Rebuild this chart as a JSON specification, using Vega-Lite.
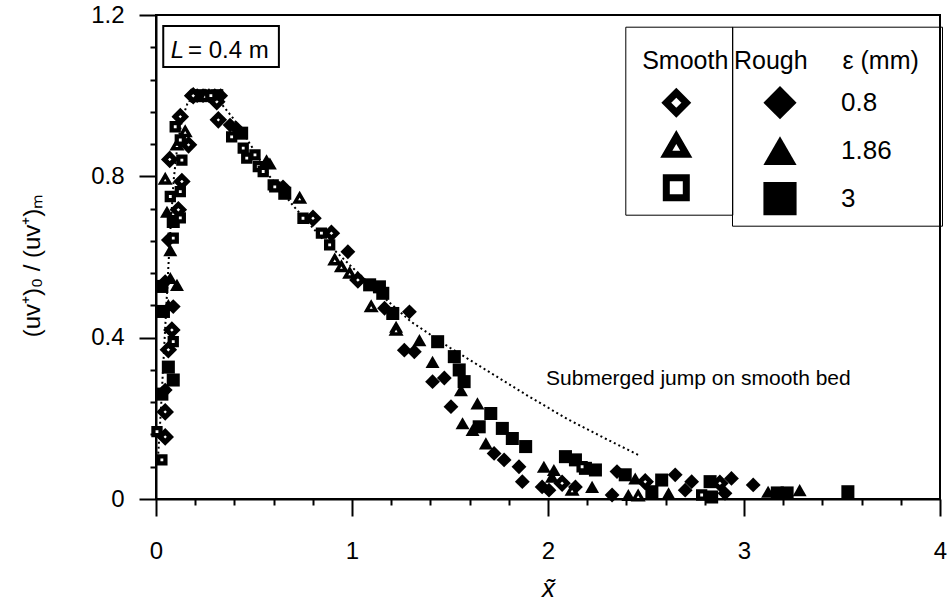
{
  "$schema": "https://vega.github.io/schema/vega-lite/v6.json",
  "width": 784,
  "height": 484,
  "autosize": {"type": "none"},
  "padding": {"left": 156, "top": 15, "right": 7, "bottom": 104},
  "background": "white",
  "config": {
    "font": "Liberation Sans",
    "view": {"stroke": "black", "strokeWidth": 2},
    "axis": {"grid": false, "domainColor": "black", "domainWidth": 2, "tickColor": "black", "tickWidth": 2, "labelColor": "black", "labelFont": "Liberation Sans", "labelFontSize": 24, "titleFont": "Liberation Sans", "titleColor": "black", "titleFontWeight": "normal", "labelFlush": false, "labelOverlap": false}
  },
  "datasets": {
    "curve": [
      {"x": 0.01, "y": 0.1}, {"x": 0.025, "y": 0.22}, {"x": 0.04, "y": 0.36}, {"x": 0.055, "y": 0.5},
      {"x": 0.07, "y": 0.64}, {"x": 0.09, "y": 0.79}, {"x": 0.11, "y": 0.88}, {"x": 0.135, "y": 0.945},
      {"x": 0.16, "y": 0.98}, {"x": 0.2, "y": 1.0}, {"x": 0.3, "y": 1.0}, {"x": 0.4, "y": 0.94},
      {"x": 0.5, "y": 0.865}, {"x": 0.58, "y": 0.8}, {"x": 0.7, "y": 0.727}, {"x": 0.85, "y": 0.645},
      {"x": 1.0, "y": 0.575}, {"x": 1.15, "y": 0.505}, {"x": 1.3, "y": 0.44}, {"x": 1.5, "y": 0.375},
      {"x": 1.7, "y": 0.315}, {"x": 1.9, "y": 0.255}, {"x": 2.1, "y": 0.198}, {"x": 2.3, "y": 0.148},
      {"x": 2.47, "y": 0.107}
    ],
    "points": [
      {"x": 0.047, "y": 0.154, "bed": "Smooth", "eps": "0.8"},
      {"x": 0.047, "y": 0.216, "bed": "Smooth", "eps": "0.8"},
      {"x": 0.063, "y": 0.37, "bed": "Smooth", "eps": "0.8"},
      {"x": 0.081, "y": 0.419, "bed": "Smooth", "eps": "0.8"},
      {"x": 0.132, "y": 0.787, "bed": "Smooth", "eps": "0.8"},
      {"x": 0.07, "y": 0.842, "bed": "Smooth", "eps": "0.8"},
      {"x": 0.114, "y": 0.717, "bed": "Smooth", "eps": "0.8"},
      {"x": 0.124, "y": 0.948, "bed": "Smooth", "eps": "0.8"},
      {"x": 0.166, "y": 0.878, "bed": "Smooth", "eps": "0.8"},
      {"x": 0.19, "y": 1.0, "bed": "Smooth", "eps": "0.8"},
      {"x": 0.31, "y": 0.985, "bed": "Smooth", "eps": "0.8"},
      {"x": 0.318, "y": 0.94, "bed": "Smooth", "eps": "0.8"},
      {"x": 0.801, "y": 0.696, "bed": "Smooth", "eps": "0.8"},
      {"x": 0.895, "y": 0.659, "bed": "Smooth", "eps": "0.8"},
      {"x": 1.03, "y": 0.543, "bed": "Smooth", "eps": "0.8"},
      {"x": 2.072, "y": 0.039, "bed": "Smooth", "eps": "0.8"},
      {"x": 2.496, "y": 0.043, "bed": "Smooth", "eps": "0.8"},
      {"x": 2.877, "y": 0.039, "bed": "Smooth", "eps": "0.8"},
      {"x": 0.047, "y": 0.793, "bed": "Smooth", "eps": "1.86"},
      {"x": 0.107, "y": 0.878, "bed": "Smooth", "eps": "1.86"},
      {"x": 0.149, "y": 0.911, "bed": "Smooth", "eps": "1.86"},
      {"x": 0.25, "y": 1.0, "bed": "Smooth", "eps": "1.86"},
      {"x": 0.733, "y": 0.746, "bed": "Smooth", "eps": "1.86"},
      {"x": 0.912, "y": 0.593, "bed": "Smooth", "eps": "1.86"},
      {"x": 0.946, "y": 0.576, "bed": "Smooth", "eps": "1.86"},
      {"x": 0.988, "y": 0.56, "bed": "Smooth", "eps": "1.86"},
      {"x": 1.098, "y": 0.477, "bed": "Smooth", "eps": "1.86"},
      {"x": 1.225, "y": 0.419, "bed": "Smooth", "eps": "1.86"},
      {"x": 2.123, "y": 0.022, "bed": "Smooth", "eps": "1.86"},
      {"x": 2.46, "y": 0.008, "bed": "Smooth", "eps": "1.86"},
      {"x": 0.03, "y": 0.097, "bed": "Smooth", "eps": "3"},
      {"x": 0.005, "y": 0.167, "bed": "Smooth", "eps": "3"},
      {"x": 0.088, "y": 0.39, "bed": "Smooth", "eps": "3"},
      {"x": 0.088, "y": 0.647, "bed": "Smooth", "eps": "3"},
      {"x": 0.124, "y": 0.697, "bed": "Smooth", "eps": "3"},
      {"x": 0.073, "y": 0.75, "bed": "Smooth", "eps": "3"},
      {"x": 0.124, "y": 0.762, "bed": "Smooth", "eps": "3"},
      {"x": 0.132, "y": 0.84, "bed": "Smooth", "eps": "3"},
      {"x": 0.124, "y": 0.89, "bed": "Smooth", "eps": "3"},
      {"x": 0.098, "y": 0.923, "bed": "Smooth", "eps": "3"},
      {"x": 0.28, "y": 1.0, "bed": "Smooth", "eps": "3"},
      {"x": 0.386, "y": 0.898, "bed": "Smooth", "eps": "3"},
      {"x": 0.445, "y": 0.87, "bed": "Smooth", "eps": "3"},
      {"x": 0.463, "y": 0.845, "bed": "Smooth", "eps": "3"},
      {"x": 0.505, "y": 0.853, "bed": "Smooth", "eps": "3"},
      {"x": 0.522, "y": 0.824, "bed": "Smooth", "eps": "3"},
      {"x": 0.547, "y": 0.812, "bed": "Smooth", "eps": "3"},
      {"x": 0.598, "y": 0.779, "bed": "Smooth", "eps": "3"},
      {"x": 0.606, "y": 0.774, "bed": "Smooth", "eps": "3"},
      {"x": 0.75, "y": 0.696, "bed": "Smooth", "eps": "3"},
      {"x": 0.844, "y": 0.659, "bed": "Smooth", "eps": "3"},
      {"x": 0.886, "y": 0.63, "bed": "Smooth", "eps": "3"},
      {"x": 2.174, "y": 0.08, "bed": "Smooth", "eps": "3"},
      {"x": 2.784, "y": 0.01, "bed": "Smooth", "eps": "3"},
      {"x": 0.047, "y": 0.27, "bed": "Rough", "eps": "0.8"},
      {"x": 0.088, "y": 0.477, "bed": "Rough", "eps": "0.8"},
      {"x": 0.047, "y": 0.539, "bed": "Rough", "eps": "0.8"},
      {"x": 0.063, "y": 0.642, "bed": "Rough", "eps": "0.8"},
      {"x": 0.18, "y": 1.0, "bed": "Rough", "eps": "0.8"},
      {"x": 0.21, "y": 1.0, "bed": "Rough", "eps": "0.8"},
      {"x": 0.24, "y": 1.0, "bed": "Rough", "eps": "0.8"},
      {"x": 0.27, "y": 1.0, "bed": "Rough", "eps": "0.8"},
      {"x": 0.3, "y": 1.0, "bed": "Rough", "eps": "0.8"},
      {"x": 0.33, "y": 1.0, "bed": "Rough", "eps": "0.8"},
      {"x": 0.378, "y": 0.927, "bed": "Rough", "eps": "0.8"},
      {"x": 0.411, "y": 0.919, "bed": "Rough", "eps": "0.8"},
      {"x": 0.648, "y": 0.774, "bed": "Rough", "eps": "0.8"},
      {"x": 0.979, "y": 0.613, "bed": "Rough", "eps": "0.8"},
      {"x": 1.166, "y": 0.473, "bed": "Rough", "eps": "0.8"},
      {"x": 1.293, "y": 0.464, "bed": "Rough", "eps": "0.8"},
      {"x": 1.267, "y": 0.369, "bed": "Rough", "eps": "0.8"},
      {"x": 1.318, "y": 0.365, "bed": "Rough", "eps": "0.8"},
      {"x": 1.411, "y": 0.291, "bed": "Rough", "eps": "0.8"},
      {"x": 1.471, "y": 0.3, "bed": "Rough", "eps": "0.8"},
      {"x": 1.505, "y": 0.229, "bed": "Rough", "eps": "0.8"},
      {"x": 1.725, "y": 0.113, "bed": "Rough", "eps": "0.8"},
      {"x": 1.776, "y": 0.097, "bed": "Rough", "eps": "0.8"},
      {"x": 1.852, "y": 0.08, "bed": "Rough", "eps": "0.8"},
      {"x": 1.869, "y": 0.043, "bed": "Rough", "eps": "0.8"},
      {"x": 1.97, "y": 0.03, "bed": "Rough", "eps": "0.8"},
      {"x": 2.005, "y": 0.022, "bed": "Rough", "eps": "0.8"},
      {"x": 2.14, "y": 0.03, "bed": "Rough", "eps": "0.8"},
      {"x": 2.327, "y": 0.01, "bed": "Rough", "eps": "0.8"},
      {"x": 2.352, "y": 0.068, "bed": "Rough", "eps": "0.8"},
      {"x": 2.649, "y": 0.06, "bed": "Rough", "eps": "0.8"},
      {"x": 2.7, "y": 0.022, "bed": "Rough", "eps": "0.8"},
      {"x": 2.733, "y": 0.043, "bed": "Rough", "eps": "0.8"},
      {"x": 2.903, "y": 0.014, "bed": "Rough", "eps": "0.8"},
      {"x": 2.936, "y": 0.051, "bed": "Rough", "eps": "0.8"},
      {"x": 3.047, "y": 0.035, "bed": "Rough", "eps": "0.8"},
      {"x": 0.056, "y": 0.712, "bed": "Rough", "eps": "1.86"},
      {"x": 0.073, "y": 0.617, "bed": "Rough", "eps": "1.86"},
      {"x": 0.073, "y": 0.548, "bed": "Rough", "eps": "1.86"},
      {"x": 0.107, "y": 0.531, "bed": "Rough", "eps": "1.86"},
      {"x": 0.063, "y": 0.481, "bed": "Rough", "eps": "1.86"},
      {"x": 0.2, "y": 1.0, "bed": "Rough", "eps": "1.86"},
      {"x": 0.29, "y": 1.0, "bed": "Rough", "eps": "1.86"},
      {"x": 0.564, "y": 0.84, "bed": "Rough", "eps": "1.86"},
      {"x": 0.581, "y": 0.832, "bed": "Rough", "eps": "1.86"},
      {"x": 1.225, "y": 0.427, "bed": "Rough", "eps": "1.86"},
      {"x": 1.344, "y": 0.394, "bed": "Rough", "eps": "1.86"},
      {"x": 1.411, "y": 0.34, "bed": "Rough", "eps": "1.86"},
      {"x": 1.556, "y": 0.27, "bed": "Rough", "eps": "1.86"},
      {"x": 1.64, "y": 0.237, "bed": "Rough", "eps": "1.86"},
      {"x": 1.564, "y": 0.188, "bed": "Rough", "eps": "1.86"},
      {"x": 1.615, "y": 0.171, "bed": "Rough", "eps": "1.86"},
      {"x": 1.683, "y": 0.138, "bed": "Rough", "eps": "1.86"},
      {"x": 1.979, "y": 0.08, "bed": "Rough", "eps": "1.86"},
      {"x": 2.02, "y": 0.055, "bed": "Rough", "eps": "1.86"},
      {"x": 2.03, "y": 0.072, "bed": "Rough", "eps": "1.86"},
      {"x": 2.225, "y": 0.03, "bed": "Rough", "eps": "1.86"},
      {"x": 2.41, "y": 0.01, "bed": "Rough", "eps": "1.86"},
      {"x": 2.445, "y": 0.051, "bed": "Rough", "eps": "1.86"},
      {"x": 2.615, "y": 0.014, "bed": "Rough", "eps": "1.86"},
      {"x": 3.123, "y": 0.018, "bed": "Rough", "eps": "1.86"},
      {"x": 3.284, "y": 0.022, "bed": "Rough", "eps": "1.86"},
      {"x": 0.063, "y": 0.327, "bed": "Rough", "eps": "3"},
      {"x": 0.088, "y": 0.295, "bed": "Rough", "eps": "3"},
      {"x": 0.03, "y": 0.26, "bed": "Rough", "eps": "3"},
      {"x": 0.038, "y": 0.465, "bed": "Rough", "eps": "3"},
      {"x": 0.03, "y": 0.527, "bed": "Rough", "eps": "3"},
      {"x": 0.088, "y": 0.688, "bed": "Rough", "eps": "3"},
      {"x": 0.23, "y": 1.0, "bed": "Rough", "eps": "3"},
      {"x": 0.31, "y": 1.0, "bed": "Rough", "eps": "3"},
      {"x": 0.437, "y": 0.907, "bed": "Rough", "eps": "3"},
      {"x": 0.657, "y": 0.758, "bed": "Rough", "eps": "3"},
      {"x": 1.09, "y": 0.531, "bed": "Rough", "eps": "3"},
      {"x": 1.14, "y": 0.526, "bed": "Rough", "eps": "3"},
      {"x": 1.157, "y": 0.51, "bed": "Rough", "eps": "3"},
      {"x": 1.208, "y": 0.46, "bed": "Rough", "eps": "3"},
      {"x": 1.437, "y": 0.39, "bed": "Rough", "eps": "3"},
      {"x": 1.522, "y": 0.353, "bed": "Rough", "eps": "3"},
      {"x": 1.547, "y": 0.32, "bed": "Rough", "eps": "3"},
      {"x": 1.572, "y": 0.291, "bed": "Rough", "eps": "3"},
      {"x": 1.649, "y": 0.179, "bed": "Rough", "eps": "3"},
      {"x": 1.708, "y": 0.212, "bed": "Rough", "eps": "3"},
      {"x": 1.767, "y": 0.175, "bed": "Rough", "eps": "3"},
      {"x": 1.818, "y": 0.15, "bed": "Rough", "eps": "3"},
      {"x": 1.886, "y": 0.13, "bed": "Rough", "eps": "3"},
      {"x": 2.089, "y": 0.105, "bed": "Rough", "eps": "3"},
      {"x": 2.14, "y": 0.097, "bed": "Rough", "eps": "3"},
      {"x": 2.191, "y": 0.076, "bed": "Rough", "eps": "3"},
      {"x": 2.242, "y": 0.072, "bed": "Rough", "eps": "3"},
      {"x": 2.394, "y": 0.06, "bed": "Rough", "eps": "3"},
      {"x": 2.53, "y": 0.018, "bed": "Rough", "eps": "3"},
      {"x": 2.58, "y": 0.047, "bed": "Rough", "eps": "3"},
      {"x": 2.827, "y": 0.043, "bed": "Rough", "eps": "3"},
      {"x": 2.835, "y": 0.005, "bed": "Rough", "eps": "3"},
      {"x": 3.17, "y": 0.015, "bed": "Rough", "eps": "3"},
      {"x": 3.22, "y": 0.015, "bed": "Rough", "eps": "3"},
      {"x": 3.53, "y": 0.018, "bed": "Rough", "eps": "3"}
    ]
  },
  "layer": [
    {
      "data": {"name": "curve"},
      "mark": {"type": "line", "stroke": "black", "strokeWidth": 2, "strokeDash": [2, 3]},
      "encoding": {
        "x": {
          "field": "x", "type": "quantitative",
          "scale": {"domain": [0, 4], "nice": false},
          "axis": {
            "values": [0, 0.2, 0.4, 0.6, 0.8, 1, 1.2, 1.4, 1.6, 1.8, 2, 2.2, 2.4, 2.6, 2.8, 3, 3.2, 3.4, 3.6, 3.8, 4],
            "tickCount": 100,
            "labelExpr": "datum.value % 1 === 0 ? format(datum.value, 'd') : ''",
            "labelOverlap": false,
            "labelFlush": false,
            "tickSize": {"condition": {"test": "datum.value % 1 === 0", "value": 17}, "value": 6},
            "labelPadding": 23,
            "title": "x\u0303",
            "titleFontStyle": "italic",
            "titleFontSize": 26,
            "titleY": 89,
            "titleBaseline": "middle"
          }
        },
        "y": {
          "field": "y", "type": "quantitative",
          "scale": {"domain": [0, 1.2], "nice": false},
          "axis": {
            "values": [0, 0.08, 0.16, 0.24, 0.32, 0.4, 0.48, 0.56, 0.64, 0.72, 0.8, 0.88, 0.96, 1.04, 1.12, 1.2],
            "tickCount": 100,
            "labelExpr": "abs(datum.value / 0.4 - round(datum.value / 0.4)) < 0.001 ? format(datum.value, '.1~f') : ''",
            "labelOverlap": false,
            "labelFlush": false,
            "tickSize": {"condition": {"test": "abs(datum.value / 0.4 - round(datum.value / 0.4)) < 0.001", "value": 17}, "value": 6},
            "labelPadding": 15,
            "title": "(uv\u207a)\u2080 / (uv\u207a)\u2098",
            "titleFontSize": 24,
            "titleX": -124,
            "titleY": 250,
            "titleAngle": -90,
            "titleAlign": "center",
            "titleBaseline": "middle"
          }
        }
      }
    },
    {
      "data": {"values": [{}]},
      "mark": {"type": "rect", "filled": false, "stroke": "black", "strokeWidth": 2},
      "encoding": {
        "x": {"datum": 0.037, "type": "quantitative"},
        "x2": {"datum": 0.627},
        "y": {"datum": 1.173, "type": "quantitative"},
        "y2": {"datum": 1.071}
      }
    },
    {
      "data": {"name": "points"},
      "transform": [{"filter": "datum.bed === 'Rough'"}],
      "mark": {"type": "point", "filled": true, "fill": "black", "strokeWidth": 0, "opacity": 1},
      "encoding": {
        "x": {"field": "x", "type": "quantitative"},
        "y": {"field": "y", "type": "quantitative"},
        "shape": {
          "field": "eps", "type": "nominal",
          "scale": {"domain": ["0.8", "1.86", "3"], "range": ["diamond", "triangle-up", "square"]},
          "legend": {
            "title": "Rough\u00a0\u00a0\u00a0\u00a0\u00a0\u03b5 (mm)\u00a0\u00a0\u00a0\u200b",
            "orient": "none",
            "legendX": 576,
            "legendY": 11.7,
            "padding": 2,
            "strokeColor": "black",
            "cornerRadius": 0,
            "titleFont": "Liberation Sans",
            "titleFontSize": 25,
            "titleFontWeight": "normal",
            "titleColor": "black",
            "titleLimit": 400,
            "titleBaseline": "line-top",
            "titleLineHeight": 66,
            "titlePadding": 30,
            "titleAnchor": "start",
            "labelFont": "Liberation Sans",
            "labelFontSize": 26,
            "labelColor": "black",
            "labelOffset": 42,
            "symbolOffset": 27,
            "symbolSize": 1100,
            "symbolStrokeWidth": 4,
            "symbolFillColor": "black",
            "rowPadding": 0,
            "encode": {
              "legend": {"strokeWidth": {"value": 2}},
              "symbols": {
                "fill": {"value": "black"},
                "strokeWidth": {"value": 0},
                "size": {"value": 960}
              }
            }
          }
        },
        "size": {
          "field": "eps", "type": "ordinal",
          "scale": {"domain": ["3", "1.86", "0.8"], "range": [170, 220, 320]},
          "legend": null
        }
      }
    },
    {
      "data": {"name": "points"},
      "transform": [{"filter": "datum.bed === 'Smooth'"}],
      "mark": {"type": "point", "filled": false, "fill": "white", "stroke": "black", "opacity": 1},
      "encoding": {
        "x": {"field": "x", "type": "quantitative"},
        "y": {"field": "y", "type": "quantitative"},
        "shape": {
          "field": "eps", "type": "nominal",
          "scale": {"domain": ["0.8", "1.86", "3"], "range": ["diamond", "triangle-up", "square"]},
          "legend": {
            "title": "\u200b\u00a0\u00a0Smooth",
            "orient": "none",
            "legendX": 469.3,
            "legendY": 11.7,
            "padding": 3,
            "strokeColor": "black",
            "cornerRadius": 0,
            "titleFont": "Liberation Sans",
            "titleFontSize": 25,
            "titleFontWeight": "normal",
            "titleColor": "black",
            "titleLimit": 400,
            "titleBaseline": "line-top",
            "titleLineHeight": 64,
            "titlePadding": 29,
            "titleAnchor": "start",
            "labelExpr": "''",
            "labelFontSize": 38,
            "labelOffset": 0,
            "symbolOffset": 29,
            "symbolSize": 400,
            "symbolStrokeWidth": 7,
            "rowPadding": -10.5,
            "encode": {
              "legend": {"strokeWidth": {"value": 2}},
              "symbols": {
                "fill": {"value": "white"},
                "stroke": {"value": "black"},
                "strokeWidth": {"condition": [{"test": "datum.value === '1.86'", "value": 5}, {"test": "datum.value === '3'", "value": 8}], "value": 7},
                "size": {"condition": [{"test": "datum.value === '1.86'", "value": 360}, {"test": "datum.value === '3'", "value": 420}], "value": 380}
              }
            }
          }
        },
        "size": {
          "field": "eps", "type": "ordinal",
          "scale": {"domain": ["3", "1.86", "0.8"], "range": [50, 110, 110]},
          "legend": null
        },
        "strokeWidth": {
          "field": "eps", "type": "ordinal",
          "scale": {"domain": ["1.86", "3", "0.8"], "range": [3.5, 5, 5]},
          "legend": null
        }
      }
    },
    {
      "data": {"values": [{}]},
      "mark": {"type": "text", "text": "Submerged jump on smooth bed", "font": "Liberation Sans", "fontSize": 21, "align": "left", "baseline": "middle", "color": "black"},
      "encoding": {
        "x": {"datum": 1.99, "type": "quantitative"},
        "y": {"datum": 0.297, "type": "quantitative"}
      }
    },
    {
      "data": {"values": [{}]},
      "mark": {"type": "text", "text": "L", "font": "Liberation Sans", "fontSize": 24, "fontStyle": "italic", "align": "left", "baseline": "middle", "color": "black"},
      "encoding": {
        "x": {"datum": 0.075, "type": "quantitative"},
        "y": {"datum": 1.11, "type": "quantitative"}
      }
    },
    {
      "data": {"values": [{}]},
      "mark": {"type": "text", "text": "= 0.4 m", "font": "Liberation Sans", "fontSize": 24, "align": "left", "baseline": "middle", "color": "black"},
      "encoding": {
        "x": {"datum": 0.163, "type": "quantitative"},
        "y": {"datum": 1.11, "type": "quantitative"}
      }
    }
  ],
  "resolve": {"scale": {"shape": "independent", "size": "independent", "strokeWidth": "independent"}}
}
